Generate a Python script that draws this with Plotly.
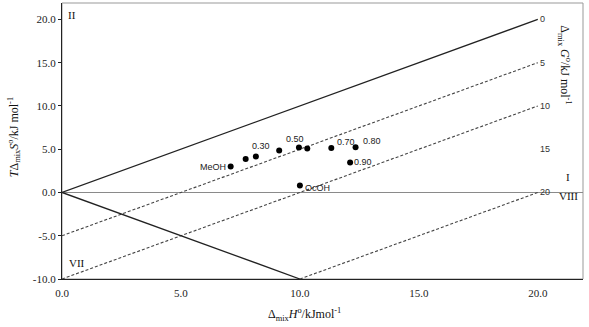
import plotly.graph_objects as go

# ---- data ----
enthalpy = [7.09, 7.72, 8.15, 9.13, 9.96, 10.31, 11.32, 12.34, 12.11, 10.0]   # Δmix H° / kJ mol-1
entropy_term = [3.0, 3.86, 4.16, 4.85, 5.2, 5.08, 5.13, 5.24, 3.46, 0.81]     # TΔmix S° / kJ mol-1
point_labels = ["MeOH", "", "0.30", "", "0.50", "", "0.70", "0.80", "0.90", "OcOH"]

gibbs_levels = [0, 5, 10, 20]          # iso-ΔG lines drawn
gibbs_styles = ["solid", "dash", "dash", "dash"]
gibbs_tick_labels = ["0", "5", "10", "15", "20"]
gibbs_tick_values = [0, 5, 10, 15, 20]

x_ticks = [0, 5, 10, 15, 20]
y_ticks = [-10, -5, 0, 5, 10, 15, 20]

H_MAX = 20.0
Y_MIN = -10.0
X_RANGE = [0, 21.9]
Y_RANGE = [-10, 21.9]

SERIF = "Liberation Serif"
SANS = "Liberation Sans"

fig = go.Figure()

# horizontal zero line
fig.add_trace(go.Scatter(x=X_RANGE, y=[0, 0], mode="lines",
                         line=dict(color="#8a8a8a", width=1.2),
                         hoverinfo="skip", showlegend=False))

# iso-ΔG lines: TΔS = ΔH - ΔG
for g, style in zip(gibbs_levels, gibbs_styles):
    h0 = max(0.0, g + Y_MIN)
    xs = [h0, H_MAX]
    ys = [h - g for h in xs]
    if style == "solid":
        ln = dict(color="#222222", width=1.3)
    else:
        ln = dict(color="#444444", width=1.1, dash="3px,2px")
    fig.add_trace(go.Scatter(x=xs, y=ys, mode="lines", line=ln,
                             hoverinfo="skip", showlegend=False))

# boundary line TΔS = -ΔH
bx = [0.0, -Y_MIN]
fig.add_trace(go.Scatter(x=bx, y=[-v for v in bx], mode="lines",
                         line=dict(color="#222222", width=1.3),
                         hoverinfo="skip", showlegend=False))

# data points
fig.add_trace(go.Scatter(x=enthalpy, y=entropy_term, mode="markers",
                         marker=dict(color="black", size=6),
                         showlegend=False))

annotations = []
# point labels: (xanchor, xshift, yshift)
offsets = {
    "MeOH": ("right", -3, 0),
    "0.30": ("center", 5, 10),
    "0.50": ("center", -4, 8),
    "0.70": ("left", 4, 6),
    "0.80": ("left", 5, 6),
    "0.90": ("left", 2, 1),
    "OcOH": ("left", 3, -3),
}
for x, y, lab in zip(enthalpy, entropy_term, point_labels):
    if not lab:
        continue
    xa, xs, ys = offsets[lab]
    annotations.append(dict(x=x, y=y, text=lab, showarrow=False, xanchor=xa,
                            yanchor="middle", xshift=xs, yshift=ys,
                            font=dict(family=SANS, size=9, color="#222")))

# ΔG labels at right end
for g, lab in zip(gibbs_tick_values, gibbs_tick_labels):
    annotations.append(dict(x=H_MAX, y=H_MAX - g, text=lab, showarrow=False,
                            xanchor="left", yanchor="middle", xshift=0,
                            font=dict(family=SANS, size=9, color="#333")))

# sector numerals
for txt, x, y in [("II", 0.42, 20.5), ("I", 21.26, 1.8), ("VIII", 21.3, -0.45), ("VII", 0.63, -8.1)]:
    annotations.append(dict(x=x, y=y, text=txt, showarrow=False,
                            xanchor="center", yanchor="middle",
                            font=dict(family=SERIF, size=11, color="#111")))

# axis titles
annotations.append(dict(xref="paper", yref="paper", x=0.466, y=-0.127,
                        text="Δ<sub>mix</sub><i>H</i><sup>o</sup>/kJmol<sup>-1</sup>",
                        showarrow=False, xanchor="center", yanchor="middle",
                        font=dict(family=SERIF, size=12, color="#111")))
annotations.append(dict(xref="paper", yref="paper", x=-0.092, y=0.514,
                        text="<i>T</i>Δ<sub>mix</sub><i>S</i><sup>o</sup>/kJ mol<sup>-1</sup>",
                        showarrow=False, textangle=-90, xanchor="center", yanchor="middle",
                        font=dict(family=SERIF, size=12, color="#111")))
annotations.append(dict(xref="paper", yref="paper", x=0.965, y=0.775,
                        text="Δ<sub>mix</sub> <i>G</i><sup>o</sup>/kJ mol<sup>-1</sup>",
                        showarrow=False, textangle=90, xanchor="center", yanchor="middle",
                        font=dict(family=SERIF, size=12, color="#111")))

# frame (gray) on top/right
shapes = [dict(type="rect", xref="paper", yref="paper", x0=0, y0=0, x1=1, y1=1,
               line=dict(color="#999999", width=1), layer="below")]

fig.update_layout(
    width=589, height=327,
    margin=dict(l=62, r=6, t=3, b=48),
    paper_bgcolor="white", plot_bgcolor="white",
    annotations=annotations, shapes=shapes,
    xaxis=dict(range=X_RANGE, tickvals=x_ticks, ticktext=[f"{v:.1f}" for v in x_ticks],
               showgrid=False, zeroline=False, showline=True, linecolor="#222",
               linewidth=1.2, ticks="", ticklabelstandoff=4,
               tickfont=dict(family=SERIF, size=11, color="#222")),
    yaxis=dict(range=Y_RANGE, tickvals=y_ticks, ticktext=[f"{v:.1f}" for v in y_ticks],
               showgrid=False, zeroline=False, showline=True, linecolor="#222",
               linewidth=1.2, ticks="outside", ticklen=3, tickcolor="#222",
               tickfont=dict(family=SERIF, size=11, color="#222")),
)

fig.write_html("out.html", config={"displayModeBar": False},
               post_script="document.body.style.margin='0';document.body.style.overflow='hidden';")
